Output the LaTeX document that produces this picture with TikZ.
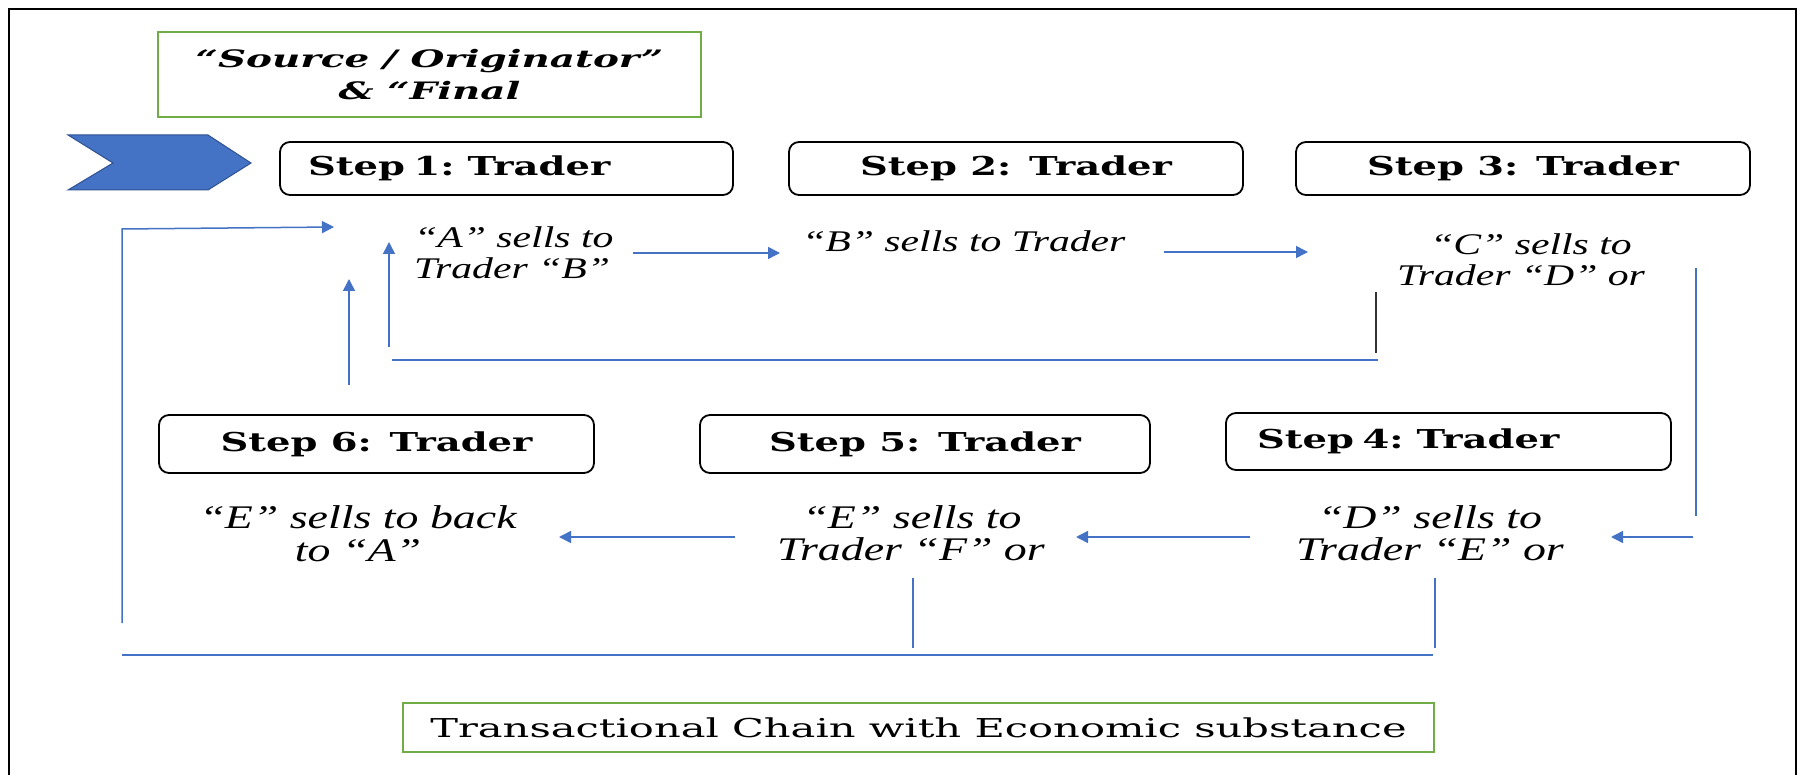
\documentclass[tikz,border=0pt]{standalone}
\usepackage{fontspec}
\usetikzlibrary{arrows.meta}
\newfontfamily\stepfont[FakeStretch=1.48]{DejaVu Serif}
\newfontfamily\topfont[FakeStretch=1.62]{DejaVu Serif}
\newfontfamily\botfont[FakeStretch=1.6]{DejaVu Serif}
\newfontfamily\italfont[FakeStretch=1.39]{Liberation Serif}
\definecolor{arrowblue}{HTML}{4472C4}
\definecolor{boxgreen}{HTML}{70AD47}
\definecolor{chevedge}{HTML}{2F528F}
\begin{document}
\begin{tikzpicture}[x=1pt,y=-1pt,
  stepbox/.style={draw=black, line width=1.8pt, rounded corners=10pt, inner sep=0pt,
    font=\stepfont\bfseries\fontsize{26}{30}\selectfont},
  greenbox/.style={draw=boxgreen, line width=2pt, inner sep=0pt, align=center},
  itop/.style={inner sep=0pt, font=\italfont\itshape\fontsize{30}{31}\selectfont},
  ibot/.style={inner sep=0pt, font=\italfont\itshape\fontsize{33}{33}\selectfont},
  link/.style={draw=arrowblue, line width=1.5pt},
  arr/.style={link, -{Triangle[length=12pt,width=12pt]}}]
\useasboundingbox (0,0) rectangle (1802,775);
\clip (0,0) rectangle (1802,775);
\fill[white] (0,0) rectangle (1802,775);
% outer frame
\draw[line width=2.5pt] (9,800) -- (9,9) -- (1796,9) -- (1796,800);
% chevron
\fill[arrowblue, draw=chevedge, line width=1pt] (68,135) -- (208,135) -- (251,163) -- (208,190) -- (68,190) -- (113,163) -- cycle;
% top green box
\node[greenbox, minimum width=543pt, minimum height=85pt,
  font=\topfont\bfseries\itshape\fontsize{24}{32}\selectfont] (src) at (429.5,74.5)
  {“Source / Originator”\\ \& “Final};
% step boxes
\node[stepbox, minimum width=453pt, minimum height=53pt, text width=397pt, inner xsep=28pt, align=left] (s1) at (506.5,168.5) {Step 1: Trader};
\node[stepbox, minimum width=454pt, minimum height=53pt] (s2) at (1016,168.5) {Step 2: Trader};
\node[stepbox, minimum width=454pt, minimum height=53pt] (s3) at (1523,168.5) {Step 3: Trader};
\node[stepbox, minimum width=435pt, minimum height=58pt] (s6) at (376.5,444) {Step 6: Trader};
\node[stepbox, minimum width=450pt, minimum height=58pt] (s5) at (925,444) {Step 5: Trader};
\node[stepbox, minimum width=445pt, minimum height=57pt, text width=383pt, inner xsep=31pt, align=left] (s4) at (1448.5,441.5) {Step 4: Trader};
% descriptions
\node[itop, anchor=base west] (a1) at (414,248) {“A” sells to};
\node[itop, anchor=base west] (a2) at (414,279) {Trader “B”};
\node[itop, anchor=base west] (b1) at (802,252) {“B” sells to Trader};
\node[itop, anchor=base] (c1) at (1531,255) {“C” sells to};
\node[itop, anchor=base] (c2) at (1521,286) {Trader “D” or};
\node[ibot, anchor=base] (e61) at (358,528) {“E” sells to back};
\node[ibot, anchor=base] (e62) at (358,561) {to “A”};
\node[ibot, anchor=base] (e51) at (912,528) {“E” sells to};
\node[ibot, anchor=base] (e52) at (911,560) {Trader “F” or};
\node[ibot, anchor=base] (d41) at (1430,528) {“D” sells to};
\node[ibot, anchor=base] (d42) at (1430,560) {Trader “E” or};
% bottom green box
\node[greenbox, minimum width=1031pt, minimum height=49pt,
  font=\botfont\fontsize{26}{30}\selectfont] (chain) at (918.5,727.5)
  {Transactional Chain with Economic substance};
% connector coordinates
\coordinate (lb) at (122,623);
\coordinate (lt) at (122,229);
\coordinate (lh) at (334,227);
\coordinate (u1b) at (349,385);
\coordinate (u1t) at (349,279);
\coordinate (u2b) at (389,347);
\coordinate (u2t) at (389,242);
\coordinate (h1a) at (392,360);
\coordinate (h1b) at (1378,360);
\coordinate (dv1) at (1376,292);
\coordinate (dv2) at (1376,353);
\coordinate (ab1) at (633,253);
\coordinate (ab2) at (780,253);
\coordinate (bc1) at (1164,252);
\coordinate (bc2) at (1308,252);
\coordinate (rv1) at (1696,268);
\coordinate (rv2) at (1696,516);
\coordinate (r41) at (1693,537);
\coordinate (r42) at (1611,537);
\coordinate (r51) at (1250,537);
\coordinate (r52) at (1076,537);
\coordinate (r61) at (735,537);
\coordinate (r62) at (559,537);
\coordinate (v5a) at (913,578);
\coordinate (v5b) at (913,648);
\coordinate (v4a) at (1435,578);
\coordinate (v4b) at (1435,648);
\coordinate (hb1) at (122,655);
\coordinate (hb2) at (1433,655);
% connectors
\draw[arr] (lb) -- (lt) -- (lh);
\draw[arr] (u1b) -- (u1t);
\draw[arr] (u2b) -- (u2t);
\draw[link] (h1a) -- (h1b);
\draw[draw=black!80, line width=1.2pt] (dv1) -- (dv2);
\draw[arr] (ab1) -- (ab2);
\draw[arr] (bc1) -- (bc2);
\draw[link] (rv1) -- (rv2);
\draw[arr] (r41) -- (r42);
\draw[arr] (r51) -- (r52);
\draw[arr] (r61) -- (r62);
\draw[link] (v5a) -- (v5b);
\draw[link] (v4a) -- (v4b);
\draw[link] (hb1) -- (hb2);
\end{tikzpicture}
\end{document}
